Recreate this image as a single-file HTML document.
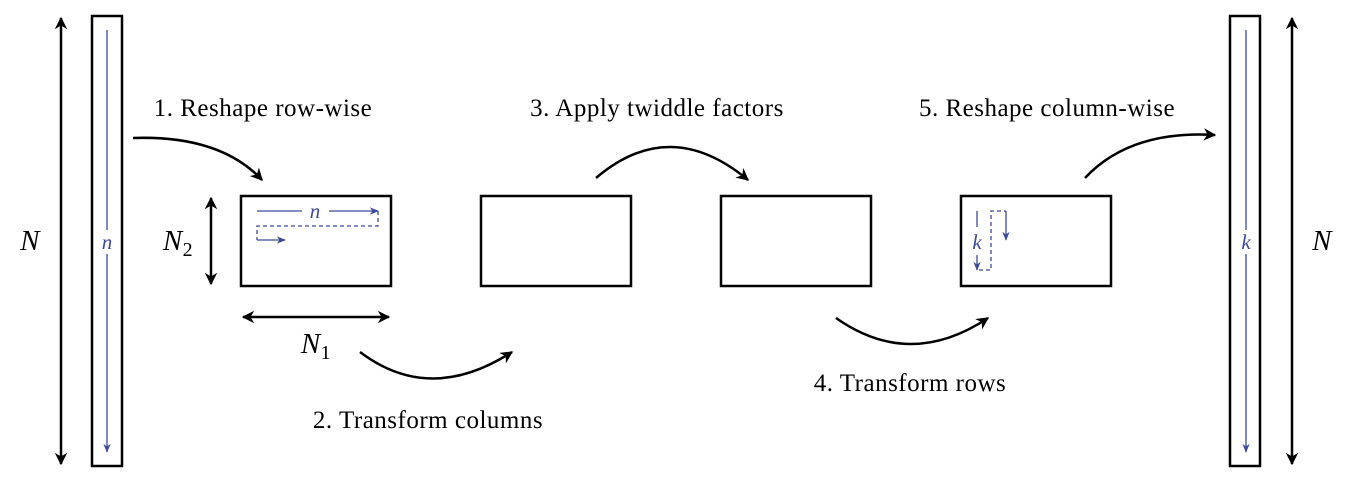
<!DOCTYPE html>
<html><head><style>body{margin:0;background:#fff}svg{display:block}text{font-family:"Liberation Serif",serif}</style></head><body>
<svg width="1350" height="486" viewBox="0 0 1350 486" xmlns="http://www.w3.org/2000/svg">
<defs>
<marker id="a" viewBox="0 0 10 10" refX="9" refY="5" markerWidth="5" markerHeight="5" orient="auto-start-reverse"><path d="M0,0 L10,5 L0,10 L3,5 z" fill="#000"/></marker>
<marker id="b" viewBox="0 0 10 10" refX="9" refY="5" markerWidth="7" markerHeight="7" orient="auto"><path d="M0,1 L10,5 L0,9 L3,5 z" fill="#3c4a9a"/></marker>
</defs>
<g stroke="#000" stroke-width="2.5" fill="none">
<line x1="61" y1="18" x2="61" y2="464" marker-start="url(#a)" marker-end="url(#a)"/>
<line x1="1292" y1="18" x2="1292" y2="464" marker-start="url(#a)" marker-end="url(#a)"/>
<rect x="92" y="16" width="30" height="450"/>
<rect x="1230" y="16" width="30" height="450"/>
<rect x="241" y="196" width="150" height="90"/>
<rect x="481" y="196" width="150" height="90"/>
<rect x="721" y="196" width="150" height="90"/>
<rect x="961" y="196" width="150" height="90"/>
<line x1="211" y1="198" x2="211" y2="284" marker-start="url(#a)" marker-end="url(#a)"/>
<line x1="243" y1="317" x2="389" y2="317" marker-start="url(#a)" marker-end="url(#a)"/>
<path d="M133,138 Q220,135 262,180" marker-end="url(#a)"/>
<path d="M596,178 Q670,115 748,180" marker-end="url(#a)"/>
<path d="M1085,178 Q1130,130 1215,135" marker-end="url(#a)"/>
<path d="M360,352 Q430,405 512,352" marker-end="url(#a)"/>
<path d="M836,318 Q910,370 988,318" marker-end="url(#a)"/>
</g>
<g stroke="#3c4a9a" stroke-width="1.3" fill="none">
<line x1="107" y1="30" x2="107" y2="230"/>
<line x1="107" y1="254" x2="107" y2="452" marker-end="url(#b)"/>
<line x1="1246" y1="30" x2="1246" y2="230"/>
<line x1="1246" y1="254" x2="1246" y2="452" marker-end="url(#b)"/>
<line x1="257" y1="211" x2="302" y2="211"/>
<line x1="329" y1="211" x2="378" y2="211" marker-end="url(#b)"/>
<path d="M378,211 V226 H257 V240" stroke-dasharray="4,3"/>
<line x1="257" y1="240" x2="285" y2="240" marker-end="url(#b)"/>
<line x1="977" y1="211" x2="977" y2="227"/>
<line x1="977" y1="255" x2="977" y2="270" marker-end="url(#b)"/>
<path d="M979,270 H991 V211 H1006" stroke-dasharray="4,3"/>
<line x1="1006" y1="211" x2="1006" y2="240" marker-end="url(#b)"/>
</g>
<g fill="#3c4a9a" font-style="italic" text-anchor="middle" font-size="21">
<text x="107" y="249">n</text><text x="1246" y="249">k</text>
<text x="315" y="218">n</text><text x="977" y="249">k</text>
</g>
<g font-size="25" text-anchor="middle" letter-spacing="0.5">
<text x="30" y="250" font-style="italic" font-size="29">N</text>
<text x="1322" y="250" font-style="italic" font-size="29">N</text>
<text x="178" y="250" font-style="italic" font-size="29">N<tspan font-style="normal" font-size="20" dy="6">2</tspan></text>
<text x="316" y="353" font-style="italic" font-size="29">N<tspan font-style="normal" font-size="20" dy="6">1</tspan></text>
<text x="263" y="116">1. Reshape row-wise</text>
<text x="428" y="428">2. Transform columns</text>
<text x="657" y="116">3. Apply twiddle factors</text>
<text x="910" y="391">4. Transform rows</text>
<text x="1047" y="116">5. Reshape column-wise</text>
</g>
</svg>
</body></html>
